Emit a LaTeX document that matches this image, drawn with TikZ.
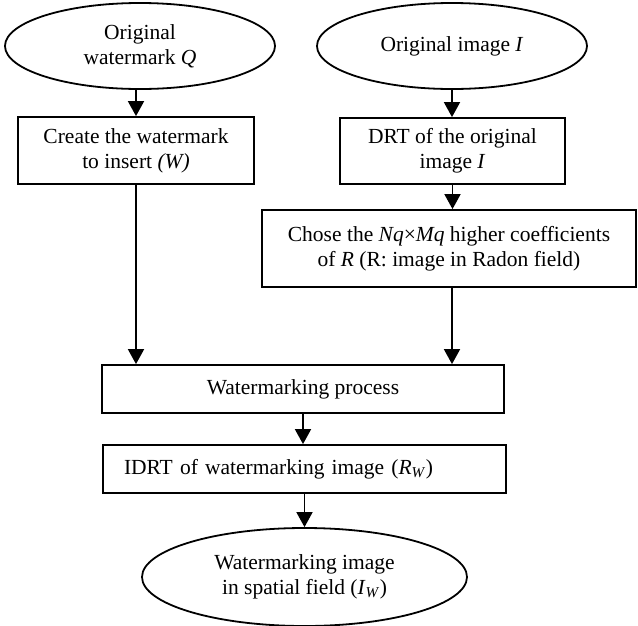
\documentclass[tikz,border=0pt]{standalone}
\usepackage{fontspec}
\setmainfont{Liberation Serif}
\usetikzlibrary{shapes.geometric,arrows.meta}
\begin{document}
\begin{tikzpicture}[x=1pt,y=-1pt,
  every node/.style={font=\fontsize{21.5}{25}\selectfont, align=center, line width=1.8pt},
  oval/.style={draw, ellipse, inner sep=0pt},
  stepbox/.style={draw, rectangle, inner sep=0pt},
  flow/.style={draw, line width=1.8pt, -{Triangle[width=16pt,length=15pt]}}]
\useasboundingbox (0,0) rectangle (638,625);

% inputs
\node[oval, minimum width=270pt, minimum height=86pt] (orgW) at (140,46)
  {Original\\watermark \textit{Q}};
\node[oval, minimum width=270pt, minimum height=86pt] (orgI) at (452,46)
  {Original image \textit{I}};

% processing steps
\node[stepbox, minimum width=236pt, minimum height=67pt] (create) at (136,150.5)
  {Create the watermark\\to insert \textit{(W)}};
\node[stepbox, minimum width=225pt, minimum height=66pt] (drt) at (452.5,151)
  {DRT of the original\\image \textit{I}};
\node[stepbox, minimum width=374pt, minimum height=77pt] (chose) at (449,248.5)
  {Chose the \textit{Nq}×\textit{Mq} higher coefficients\\of \textit{R} (R: image in Radon field)};
\node[stepbox, minimum width=402pt, minimum height=48pt] (proc) at (303,389)
  {Watermarking process};
\node[stepbox, minimum height=48pt, inner xsep=21pt, text width=361pt, align=left] (idrt) at (304.5,469)
  {IDRT of watermarking image (\textit{R}\textsubscript{\textit{W}})};

% output
\node[oval, minimum width=325pt, minimum height=98pt] (out) at (304.5,577)
  {Watermarking image\\in spatial field (\textit{I}\textsubscript{\textit{W}})};

% connectors
\coordinate (rcol) at (452,0);
\draw[flow] (create.north |- orgW.south) -- (create.north);
\draw[flow] (orgI.south) -- (orgI.south |- drt.north);
\draw[flow] (drt.south) -- (drt.south |- chose.north);
\draw[flow] (create.south) -- (create.south |- proc.north);
\draw[flow] (rcol |- chose.south) -- (rcol |- proc.north);
\draw[flow] (proc.south) -- (proc.south |- idrt.north);
\draw[flow] (idrt.south) -- (idrt.south |- out.north);
\end{tikzpicture}
\end{document}
